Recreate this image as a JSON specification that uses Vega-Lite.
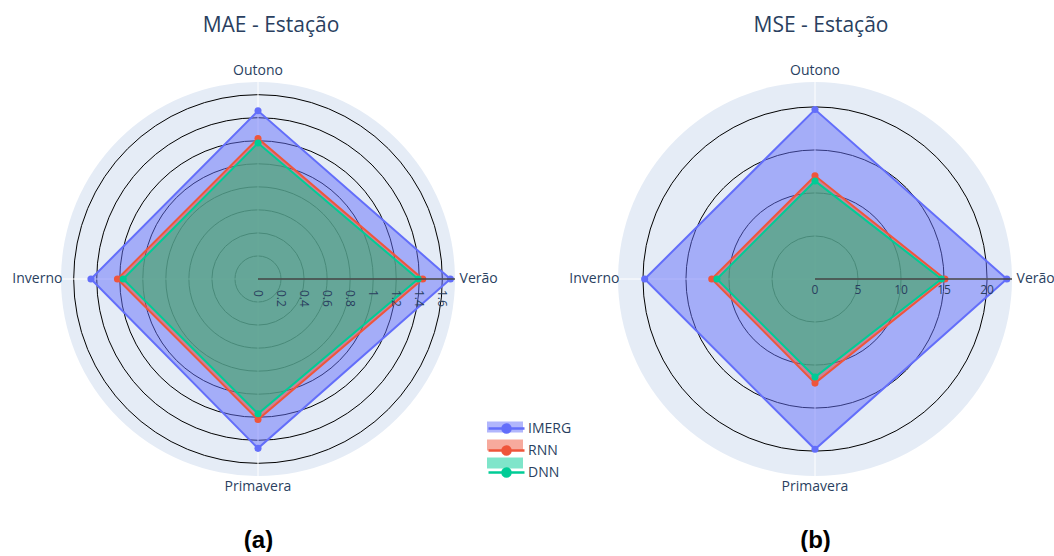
{
  "$schema": "https://vega.github.io/schema/vega-lite/v6.json",
  "autosize": {"type": "pad"},
  "padding": {"left": 12, "top": 15, "right": 0, "bottom": 0},
  "background": "white",
  "config": {"view": {"stroke": null}, "font": "Open Sans"},
  "datasets": {
    "mae": [
      {"model": "IMERG", "season": "Verão", "value": 1.67},
      {"model": "IMERG", "season": "Outono", "value": 1.46},
      {"model": "IMERG", "season": "Inverno", "value": 1.45},
      {"model": "IMERG", "season": "Primavera", "value": 1.47},
      {"model": "RNN", "season": "Verão", "value": 1.43},
      {"model": "RNN", "season": "Outono", "value": 1.22},
      {"model": "RNN", "season": "Inverno", "value": 1.22},
      {"model": "RNN", "season": "Primavera", "value": 1.22},
      {"model": "DNN", "season": "Verão", "value": 1.39},
      {"model": "DNN", "season": "Outono", "value": 1.18},
      {"model": "DNN", "season": "Inverno", "value": 1.17},
      {"model": "DNN", "season": "Primavera", "value": 1.17}
    ],
    "mse": [
      {"model": "IMERG", "season": "Verão", "value": 22.3},
      {"model": "IMERG", "season": "Outono", "value": 19.7},
      {"model": "IMERG", "season": "Inverno", "value": 19.8},
      {"model": "IMERG", "season": "Primavera", "value": 19.8},
      {"model": "RNN", "season": "Verão", "value": 15.1},
      {"model": "RNN", "season": "Outono", "value": 12.0},
      {"model": "RNN", "season": "Inverno", "value": 12.0},
      {"model": "RNN", "season": "Primavera", "value": 12.1},
      {"model": "DNN", "season": "Verão", "value": 14.7},
      {"model": "DNN", "season": "Outono", "value": 11.4},
      {"model": "DNN", "season": "Inverno", "value": 11.4},
      {"model": "DNN", "season": "Primavera", "value": 11.4}
    ],
    "seasons": [
      {"season": "Verão"}, {"season": "Outono"}, {"season": "Inverno"}, {"season": "Primavera"}
    ],
    "ticksMAE": [
      {"tick": 0}, {"tick": 0.2}, {"tick": 0.4}, {"tick": 0.6}, {"tick": 0.8},
      {"tick": 1}, {"tick": 1.2}, {"tick": 1.4}, {"tick": 1.6}
    ],
    "ticksMSE": [
      {"tick": 0}, {"tick": 5}, {"tick": 10}, {"tick": 15}, {"tick": 20}
    ]
  },
  "spacing": 163,
  "bounds": "flush",
  "resolve": {"scale": {"size": "independent", "x": "independent", "y": "independent"}},
  "hconcat": [
    {
      "width": 394,
      "height": 394,
      "title": {"text": "MAE - Estação", "anchor": "middle", "dx": 13, "fontSize": 21, "font": "Open Sans", "fontWeight": "normal", "color": "#2a3f5f", "offset": 28},
      "encoding": {
        "x": {"field": "px", "type": "quantitative", "scale": {"domain": [-1.71, 1.71], "nice": false, "zero": false},
          "axis": {"title": "(a)", "domain": false, "ticks": false, "labels": false, "grid": false, "titleFont": "Liberation Sans", "titleFontSize": 24, "titleFontWeight": "bold", "titleColor": "#000", "titlePadding": 52}},
        "y": {"field": "py", "type": "quantitative", "scale": {"domain": [-1.71, 1.71], "nice": false, "zero": false}, "axis": null}
      },
      "layer": [
        {
          "data": {"values": [{}]},
          "transform": [{"calculate": "0", "as": "px"}, {"calculate": "0", "as": "py"}],
          "mark": {"type": "point", "shape": "circle", "filled": true, "size": 155236, "color": "#e5ecf6", "opacity": 1}
        },
        {
          "data": {"name": "ticksMAE"},
          "transform": [{"filter": "datum.tick > 0"}, {"calculate": "0", "as": "px"}, {"calculate": "0", "as": "py"}],
          "mark": {"type": "point", "shape": "circle", "filled": false, "stroke": "#000", "strokeWidth": 1, "opacity": 1},
          "encoding": {"size": {"field": "tick", "type": "quantitative", "legend": null, "scale": {"type": "pow", "exponent": 2, "domain": [0, 1.71], "range": [0, 155236], "zero": true, "nice": false}}}
        },
        {
          "data": {"name": "seasons"},
          "transform": [
            {"calculate": "indexof(['Verão','Outono','Inverno','Primavera'], datum.season) * PI / 2", "as": "a"},
            {"calculate": "0", "as": "px"}, {"calculate": "0", "as": "py"},
            {"calculate": "1.71 * cos(datum.a)", "as": "ex"}, {"calculate": "1.71 * sin(datum.a)", "as": "ey"}
          ],
          "mark": {"type": "rule", "stroke": "white", "strokeWidth": 1},
          "encoding": {"x2": {"field": "ex"}, "y2": {"field": "ey"}}
        },
        {
          "data": {"name": "mae"},
          "transform": [
            {"calculate": "indexof(['Verão','Outono','Inverno','Primavera'], datum.season) * PI / 2", "as": "a"},
            {"calculate": "datum.value * cos(datum.a)", "as": "px"}, {"calculate": "datum.value * sin(datum.a)", "as": "py"}
          ],
          "mark": {"type": "line", "interpolate": "linear-closed", "strokeWidth": 0, "fillOpacity": 0.5},
          "encoding": {
            "fill": {"field": "model", "type": "nominal", "scale": {"domain": ["IMERG", "RNN", "DNN"], "range": ["#636efa", "#EF553B", "#00cc96"]},
              "legend": {"orient": "none", "legendX": 426, "legendY": 336, "title": null, "symbolType": "M-2,-0.611H2V0.611H-2Z", "symbolSize": 324, "symbolOffset": 9, "symbolStrokeWidth": 0, "symbolOpacity": 0.5, "labelOpacity": 0, "labelFontSize": 14, "labelFont": "Open Sans", "labelColor": "#2a3f5f", "labelOffset": 11}},
            "order": {"field": "a"}
          }
        },
        {
          "data": {"name": "mae"},
          "transform": [
            {"calculate": "indexof(['Verão','Outono','Inverno','Primavera'], datum.season) * PI / 2", "as": "a"},
            {"calculate": "datum.value * cos(datum.a)", "as": "px"}, {"calculate": "datum.value * sin(datum.a)", "as": "py"}
          ],
          "mark": {"type": "line", "interpolate": "linear-closed", "strokeWidth": 2},
          "encoding": {
            "stroke": {"field": "model", "type": "nominal", "sort": ["IMERG", "RNN", "DNN"], "scale": {"range": ["#636efa", "#EF553B", "#00cc96"]},
              "legend": {"orient": "none", "legendX": 426, "legendY": 336, "title": null, "symbolType": "M-2,0H2M0.444,0A0.444,0.444,0,1,1,-0.444,0A0.444,0.444,0,1,1,0.444,0Z", "symbolSize": 324, "symbolOffset": 9, "symbolStrokeWidth": 2.5, "labelFontSize": 14, "labelFont": "Open Sans", "labelColor": "#2a3f5f", "labelOffset": 11,
                "encode": {"symbols": {"update": {"fill": {"scale": "stroke", "field": "value"}, "opacity": {"value": 1}}}}}},
            "order": {"field": "a"}
          }
        },
        {
          "data": {"name": "mae"},
          "transform": [
            {"calculate": "indexof(['Verão','Outono','Inverno','Primavera'], datum.season) * PI / 2", "as": "a"},
            {"calculate": "datum.value * cos(datum.a)", "as": "px"}, {"calculate": "datum.value * sin(datum.a)", "as": "py"}
          ],
          "mark": {"type": "point", "shape": "circle", "filled": true, "size": 50, "opacity": 1},
          "encoding": {
            "color": {"field": "model", "type": "nominal", "scale": {"domain": ["IMERG", "RNN", "DNN"], "range": ["#636efa", "#EF553B", "#00cc96"]}, "legend": null}
          }
        },
        {
          "data": {"values": [{}]},
          "transform": [{"calculate": "0", "as": "px"}, {"calculate": "0", "as": "py"}, {"calculate": "1.71", "as": "ex"}],
          "mark": {"type": "rule", "stroke": "#444", "strokeWidth": 1.5},
          "encoding": {"x2": {"field": "ex"}}
        },
        {
          "data": {"name": "ticksMAE"},
          "transform": [{"calculate": "datum.tick", "as": "px"}, {"calculate": "0", "as": "py"}],
          "mark": {"type": "text", "angle": 90, "align": "left", "baseline": "middle", "dx": 11, "fontSize": 12, "font": "Open Sans", "fill": "#2a3f5f"},
          "encoding": {"text": {"field": "tick", "type": "quantitative"}}
        },
        {
          "data": {"name": "seasons"},
          "transform": [
            {"calculate": "indexof(['Verão','Outono','Inverno','Primavera'], datum.season) * PI / 2", "as": "a"},
            {"calculate": "1.71 * 1.12 * cos(datum.a)", "as": "px"}, {"calculate": "1.71 * 1.055 * sin(datum.a)", "as": "py"}
          ],
          "mark": {"type": "text", "align": "center", "baseline": "middle", "fontSize": 14, "font": "Open Sans", "fill": "#2a3f5f"},
          "encoding": {"text": {"field": "season", "type": "nominal"}}
        }
      ]
    },
    {
      "width": 394,
      "height": 394,
      "title": {"text": "MSE - Estação", "anchor": "middle", "dx": 6, "fontSize": 21, "font": "Open Sans", "fontWeight": "normal", "color": "#2a3f5f", "offset": 28},
      "encoding": {
        "x": {"field": "px", "type": "quantitative", "scale": {"domain": [-22.9, 22.9], "nice": false, "zero": false},
          "axis": {"title": "(b)", "domain": false, "ticks": false, "labels": false, "grid": false, "titleFont": "Liberation Sans", "titleFontSize": 24, "titleFontWeight": "bold", "titleColor": "#000", "titlePadding": 52}},
        "y": {"field": "py", "type": "quantitative", "scale": {"domain": [-22.9, 22.9], "nice": false, "zero": false}, "axis": null}
      },
      "layer": [
        {
          "data": {"values": [{}]},
          "transform": [{"calculate": "0", "as": "px"}, {"calculate": "0", "as": "py"}],
          "mark": {"type": "point", "shape": "circle", "filled": true, "size": 155236, "color": "#e5ecf6", "opacity": 1}
        },
        {
          "data": {"name": "ticksMSE"},
          "transform": [{"filter": "datum.tick > 0"}, {"calculate": "0", "as": "px"}, {"calculate": "0", "as": "py"}],
          "mark": {"type": "point", "shape": "circle", "filled": false, "stroke": "#000", "strokeWidth": 1, "opacity": 1},
          "encoding": {"size": {"field": "tick", "type": "quantitative", "legend": null, "scale": {"type": "pow", "exponent": 2, "domain": [0, 22.9], "range": [0, 155236], "zero": true, "nice": false}}}
        },
        {
          "data": {"name": "seasons"},
          "transform": [
            {"calculate": "indexof(['Verão','Outono','Inverno','Primavera'], datum.season) * PI / 2", "as": "a"},
            {"calculate": "0", "as": "px"}, {"calculate": "0", "as": "py"},
            {"calculate": "22.9 * cos(datum.a)", "as": "ex"}, {"calculate": "22.9 * sin(datum.a)", "as": "ey"}
          ],
          "mark": {"type": "rule", "stroke": "white", "strokeWidth": 1},
          "encoding": {"x2": {"field": "ex"}, "y2": {"field": "ey"}}
        },
        {
          "data": {"name": "mse"},
          "transform": [
            {"calculate": "indexof(['Verão','Outono','Inverno','Primavera'], datum.season) * PI / 2", "as": "a"},
            {"calculate": "datum.value * cos(datum.a)", "as": "px"}, {"calculate": "datum.value * sin(datum.a)", "as": "py"}
          ],
          "mark": {"type": "line", "interpolate": "linear-closed", "strokeWidth": 0, "fillOpacity": 0.5},
          "encoding": {
            "fill": {"field": "model", "type": "nominal", "scale": {"domain": ["IMERG", "RNN", "DNN"], "range": ["#636efa", "#EF553B", "#00cc96"]}},
            "order": {"field": "a"}
          }
        },
        {
          "data": {"name": "mse"},
          "transform": [
            {"calculate": "indexof(['Verão','Outono','Inverno','Primavera'], datum.season) * PI / 2", "as": "a"},
            {"calculate": "datum.value * cos(datum.a)", "as": "px"}, {"calculate": "datum.value * sin(datum.a)", "as": "py"}
          ],
          "mark": {"type": "line", "interpolate": "linear-closed", "strokeWidth": 2},
          "encoding": {
            "stroke": {"field": "model", "type": "nominal", "sort": ["IMERG", "RNN", "DNN"], "scale": {"range": ["#636efa", "#EF553B", "#00cc96"]}},
            "order": {"field": "a"}
          }
        },
        {
          "data": {"name": "mse"},
          "transform": [
            {"calculate": "indexof(['Verão','Outono','Inverno','Primavera'], datum.season) * PI / 2", "as": "a"},
            {"calculate": "datum.value * cos(datum.a)", "as": "px"}, {"calculate": "datum.value * sin(datum.a)", "as": "py"}
          ],
          "mark": {"type": "point", "shape": "circle", "filled": true, "size": 50, "opacity": 1},
          "encoding": {
            "color": {"field": "model", "type": "nominal", "scale": {"domain": ["IMERG", "RNN", "DNN"], "range": ["#636efa", "#EF553B", "#00cc96"]}, "legend": null}
          }
        },
        {
          "data": {"values": [{}]},
          "transform": [{"calculate": "0", "as": "px"}, {"calculate": "0", "as": "py"}, {"calculate": "22.9", "as": "ex"}],
          "mark": {"type": "rule", "stroke": "#444", "strokeWidth": 1.5},
          "encoding": {"x2": {"field": "ex"}}
        },
        {
          "data": {"name": "ticksMSE"},
          "transform": [{"calculate": "datum.tick", "as": "px"}, {"calculate": "0", "as": "py"}],
          "mark": {"type": "text", "align": "center", "baseline": "top", "dy": 6, "fontSize": 12, "font": "Open Sans", "fill": "#2a3f5f"},
          "encoding": {"text": {"field": "tick", "type": "quantitative"}}
        },
        {
          "data": {"name": "seasons"},
          "transform": [
            {"calculate": "indexof(['Verão','Outono','Inverno','Primavera'], datum.season) * PI / 2", "as": "a"},
            {"calculate": "22.9 * 1.12 * cos(datum.a)", "as": "px"}, {"calculate": "22.9 * 1.055 * sin(datum.a)", "as": "py"}
          ],
          "mark": {"type": "text", "align": "center", "baseline": "middle", "fontSize": 14, "font": "Open Sans", "fill": "#2a3f5f"},
          "encoding": {"text": {"field": "season", "type": "nominal"}}
        }
      ]
    }
  ]
}
